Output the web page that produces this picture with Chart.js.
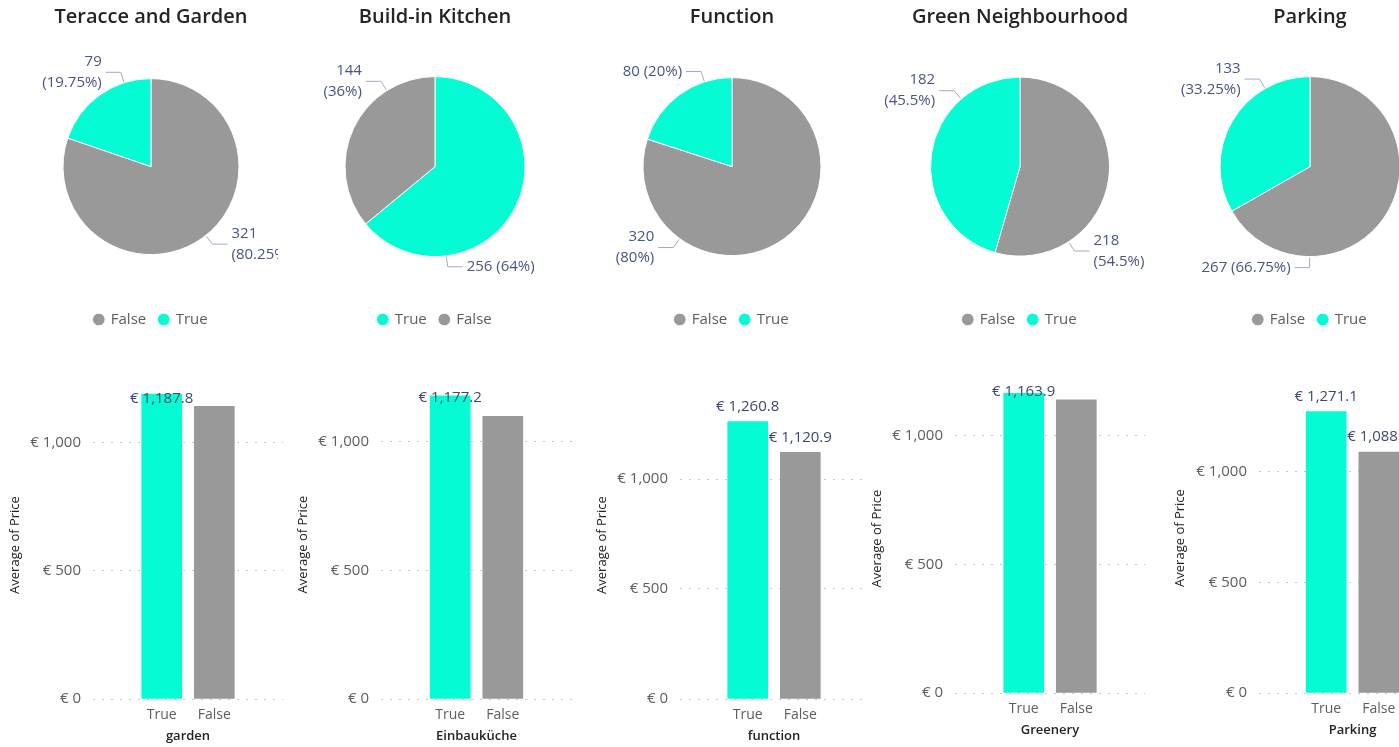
<!DOCTYPE html>
<html>
<head>
<meta charset="utf-8">
<title>Features vs. Price</title>
<script src="https://cdn.jsdelivr.net/npm/chart.js@4.4.1/dist/chart.umd.min.js"></script>
<style>
  html, body { margin: 0; padding: 0; background: #ffffff; }
  body { width: 1399px; height: 747px; overflow: hidden; position: relative; }
  canvas { position: absolute; }
</style>
</head>
<body>
<div id="tablero"></div>
<script>
// Datos
const pieTitles    = ['Teracce and Garden', 'Build-in Kitchen', 'Function', 'Green Neighbourhood', 'Parking'];
const pieLabels    = [['False', 'True'], ['True', 'False'], ['False', 'True'], ['False', 'True'], ['False', 'True']];
const pieCounts    = [[321, 79], [256, 144], [320, 80], [218, 182], [267, 133]];

const barCategories = ['True', 'False'];
const barAxisTitles = ['garden', 'Einbauküche', 'function', 'Greenery', 'Parking'];
const avgPrice      = [[1187.8, 1140], [1177.2, 1098], [1260.8, 1120.9], [1163.9, 1139], [1271.1, 1088.4]];
const priceMax      = [1200, 1200, 1400, 1200, 1400];
const priceTicks    = [0, 500, 1000];

// ─────────────────────────────────────────────
// Estilo y posiciones (no son datos)
// ─────────────────────────────────────────────
const TEAL = '#05fbd3';
const GRIS = '#999999';
const colorDe = etiqueta => etiqueta === 'True' ? TEAL : GRIS;
const FUENTE = '"Segoe UI", "Open Sans", "Noto Sans", sans-serif';

Chart.defaults.font.family = FUENTE;
Chart.defaults.animation = false;
Chart.defaults.events = [];

// cajas de los pasteles: centro x, ancho del lienzo, radio
const pieBoxes = [
    { cx: 151.3,  width: 254, radius: 88 },
    { cx: 434.5,  width: 270, radius: 90 },
    { cx: 731.7,  width: 270, radius: 89 },
    { cx: 1019.7, width: 270, radius: 89.5 },
    { cx: 1310.3, width: 270, radius: 90 }
];
// dónde cae la guía de la etiqueta dentro de cada porción, y si parte en dos líneas
const pieLabelAt   = [[0.49, 0.75], [0.75, 0.75], [0.75, 0.75], [0.75, 0.75], [0.75, 0.75]];
const pieLabelWrap = [[true, true], [false, true], [true, false], [true, true], [false, true]];

// cajas de las barras
const barBoxes = [
    { gridLeft: 93,   gridRight: 283,  plotTop: 391, zeroY: 699,   yTitleX: 15 },
    { gridLeft: 381,  gridRight: 572,  plotTop: 390, zeroY: 699,   yTitleX: 303 },
    { gridLeft: 680,  gridRight: 868,  plotTop: 391, zeroY: 699.3, yTitleX: 602 },
    { gridLeft: 955,  gridRight: 1145, plotTop: 384, zeroY: 692.7, yTitleX: 877 },
    { gridLeft: 1259, gridRight: 1446, plotTop: 383, zeroY: 693.3, yTitleX: 1180 }
];
const PASO_CATEGORIA = 52.6; // px entre barras

const tablero = document.getElementById('tablero');
function nuevoCanvas(left, top, width, height) {
    const c = document.createElement('canvas');
    c.width = Math.round(width);
    c.height = Math.round(height);
    c.style.left = Math.round(left) + 'px';
    c.style.top = Math.round(top) + 'px';
    tablero.appendChild(c);
    return c;
}

// Etiquetas con guía para los pasteles
const etiquetasPastel = {
    id: 'etiquetasPastel',
    afterDatasetsDraw(chart, args, opts) {
        const ctx = chart.ctx;
        const valores = chart.data.datasets[0].data;
        const total = valores.reduce((a, b) => a + b, 0);
        ctx.save();
        ctx.font = '15px ' + FUENTE;
        chart.getDatasetMeta(0).data.forEach((arc, i) => {
            const p = arc.getProps(['x', 'y', 'startAngle', 'endAngle', 'outerRadius'], true);
            const ang = p.startAngle + (p.endAngle - p.startAngle) * opts.at[i];
            const cos = Math.cos(ang), sin = Math.sin(ang);
            const x0 = p.x + cos * (p.outerRadius + 1), y0 = p.y + sin * (p.outerRadius + 1);
            const x1 = p.x + cos * (p.outerRadius + 11), y1 = p.y + sin * (p.outerRadius + 11);
            const dir = cos < 0 ? -1 : 1;
            const x2 = x1 + dir * 15;

            ctx.strokeStyle = '#a3aac4';
            ctx.lineWidth = 1;
            ctx.beginPath();
            ctx.moveTo(x0, y0);
            ctx.lineTo(x1, y1);
            ctx.lineTo(x2, y1);
            ctx.stroke();

            const pct = +(valores[i] / total * 100).toFixed(2);
            const lineas = opts.wrap[i] ? [String(valores[i]), `(${pct}%)`] : [`${valores[i]} (${pct}%)`];
            ctx.fillStyle = '#4a5582';
            ctx.textAlign = dir < 0 ? 'right' : 'left';
            ctx.textBaseline = 'middle';
            lineas.forEach((t, k) => {
                ctx.fillText(t, x2 + dir * 4, y1 + (k - (lineas.length - 1) / 2) * 21);
            });
        });
        ctx.restore();
    }
};

// Etiquetas de valor sobre las barras (se ocultan si chocan)
const formatoEuro = v => '€ ' + v.toLocaleString('en-US', { minimumFractionDigits: 1, maximumFractionDigits: 1 });
const etiquetasBarra = {
    id: 'etiquetasBarra',
    afterDatasetsDraw(chart) {
        const ctx = chart.ctx;
        const valores = chart.data.datasets[0].data;
        const puestas = [];
        ctx.save();
        ctx.font = '15px ' + FUENTE;
        ctx.fillStyle = '#3e4873';
        ctx.textAlign = 'center';
        ctx.textBaseline = 'middle';
        chart.getDatasetMeta(0).data.forEach((bar, i) => {
            const { x, y } = bar.getProps(['x', 'y'], true);
            const texto = formatoEuro(valores[i].y);
            const w = ctx.measureText(texto).width;
            const cy = Math.max(y - 15, chart.chartArea.top + 8);
            const caja = { l: x - w / 2, r: x + w / 2, t: cy - 9, b: cy + 9 };
            const choca = puestas.some(q => caja.l < q.r && caja.r > q.l && caja.t < q.b && caja.b > q.t);
            if (choca) return;
            puestas.push(caja);
            ctx.fillText(texto, x, cy);
        });
        ctx.restore();
    }
};

// ─────────────────────────────────────────────
// Pasteles
// ─────────────────────────────────────────────
pieTitles.forEach((titulo, n) => {
    const caja = pieBoxes[n];
    const canvas = nuevoCanvas(caja.cx - caja.width / 2, 0, caja.width, 337);
    new Chart(canvas, {
        type: 'pie',
        data: {
            labels: pieLabels[n],
            datasets: [{
                data: pieCounts[n],
                backgroundColor: pieLabels[n].map(colorDe),
                borderColor: '#ffffff',
                borderWidth: 1
            }]
        },
        options: {
            responsive: false,
            radius: caja.radius,
            layout: { padding: 0 },
            plugins: {
                title: {
                    display: true,
                    text: titulo,
                    color: '#252423',
                    font: { size: 20, weight: '600' },
                    padding: { top: 5, bottom: 5.2 }
                },
                legend: {
                    position: 'bottom',
                    labels: {
                        usePointStyle: true,
                        pointStyle: 'circle',
                        boxWidth: 9,
                        boxHeight: 9,
                        padding: 13,
                        color: '#605e5c',
                        font: { size: 15 }
                    }
                },
                tooltip: { enabled: false },
                etiquetasPastel: { at: pieLabelAt[n], wrap: pieLabelWrap[n] }
            }
        },
        plugins: [etiquetasPastel]
    });
});

// ─────────────────────────────────────────────
// Barras: precio medio por categoría
// ─────────────────────────────────────────────
barAxisTitles.forEach((tituloX, n) => {
    const b = barBoxes[n];
    const left = b.yTitleX - 16;
    const top = 345;
    const width = b.gridRight + 8 - left;
    const height = b.zeroY + 48 - top;
    const mitad = (b.gridRight - b.gridLeft) / (2 * PASO_CATEGORIA);

    const canvas = nuevoCanvas(left, top, width, height);
    new Chart(canvas, {
        type: 'bar',
        data: {
            datasets: [{
                data: barCategories.map((c, i) => ({ x: i, y: avgPrice[n][i] })),
                backgroundColor: barCategories.map(colorDe),
                barThickness: 40
            }]
        },
        options: {
            responsive: false,
            layout: { padding: { top: b.plotTop - top, right: 8, left: 0, bottom: 0 } },
            plugins: { legend: { display: false }, tooltip: { enabled: false } },
            scales: {
                x: {
                    type: 'linear',
                    offset: false,
                    min: 0.5 - mitad,
                    max: 0.5 + mitad,
                    afterBuildTicks: s => { s.ticks = barCategories.map((c, i) => ({ value: i })); },
                    afterFit: s => { s.height = 48; },
                    ticks: {
                        callback: v => barCategories[v],
                        color: '#605e5c',
                        font: { size: 14 },
                        padding: 8,
                        autoSkip: false,
                        maxRotation: 0
                    },
                    grid: { display: false, drawTicks: false },
                    border: { display: false },
                    title: {
                        display: true,
                        text: tituloX,
                        color: '#252423',
                        font: { size: 13, weight: '600' },
                        padding: { top: 0, bottom: 3 }
                    }
                },
                y: {
                    min: 0,
                    max: priceMax[n],
                    afterBuildTicks: s => { s.ticks = priceTicks.map(v => ({ value: v })); },
                    afterFit: s => { s.width = b.gridLeft - left; },
                    ticks: {
                        callback: v => '€ ' + v.toLocaleString('en-US'),
                        color: '#605e5c',
                        font: { size: 15 },
                        padding: 12
                    },
                    grid: { color: '#c8c6c4', lineWidth: 1, drawTicks: false },
                    border: { display: false, dash: [2, 7] },
                    title: {
                        display: true,
                        text: 'Average of Price',
                        color: '#252423',
                        font: { size: 13 },
                        padding: { top: 8.2, bottom: 0 }
                    }
                }
            }
        },
        plugins: [etiquetasBarra]
    });
});
</script>
</body>
</html>
